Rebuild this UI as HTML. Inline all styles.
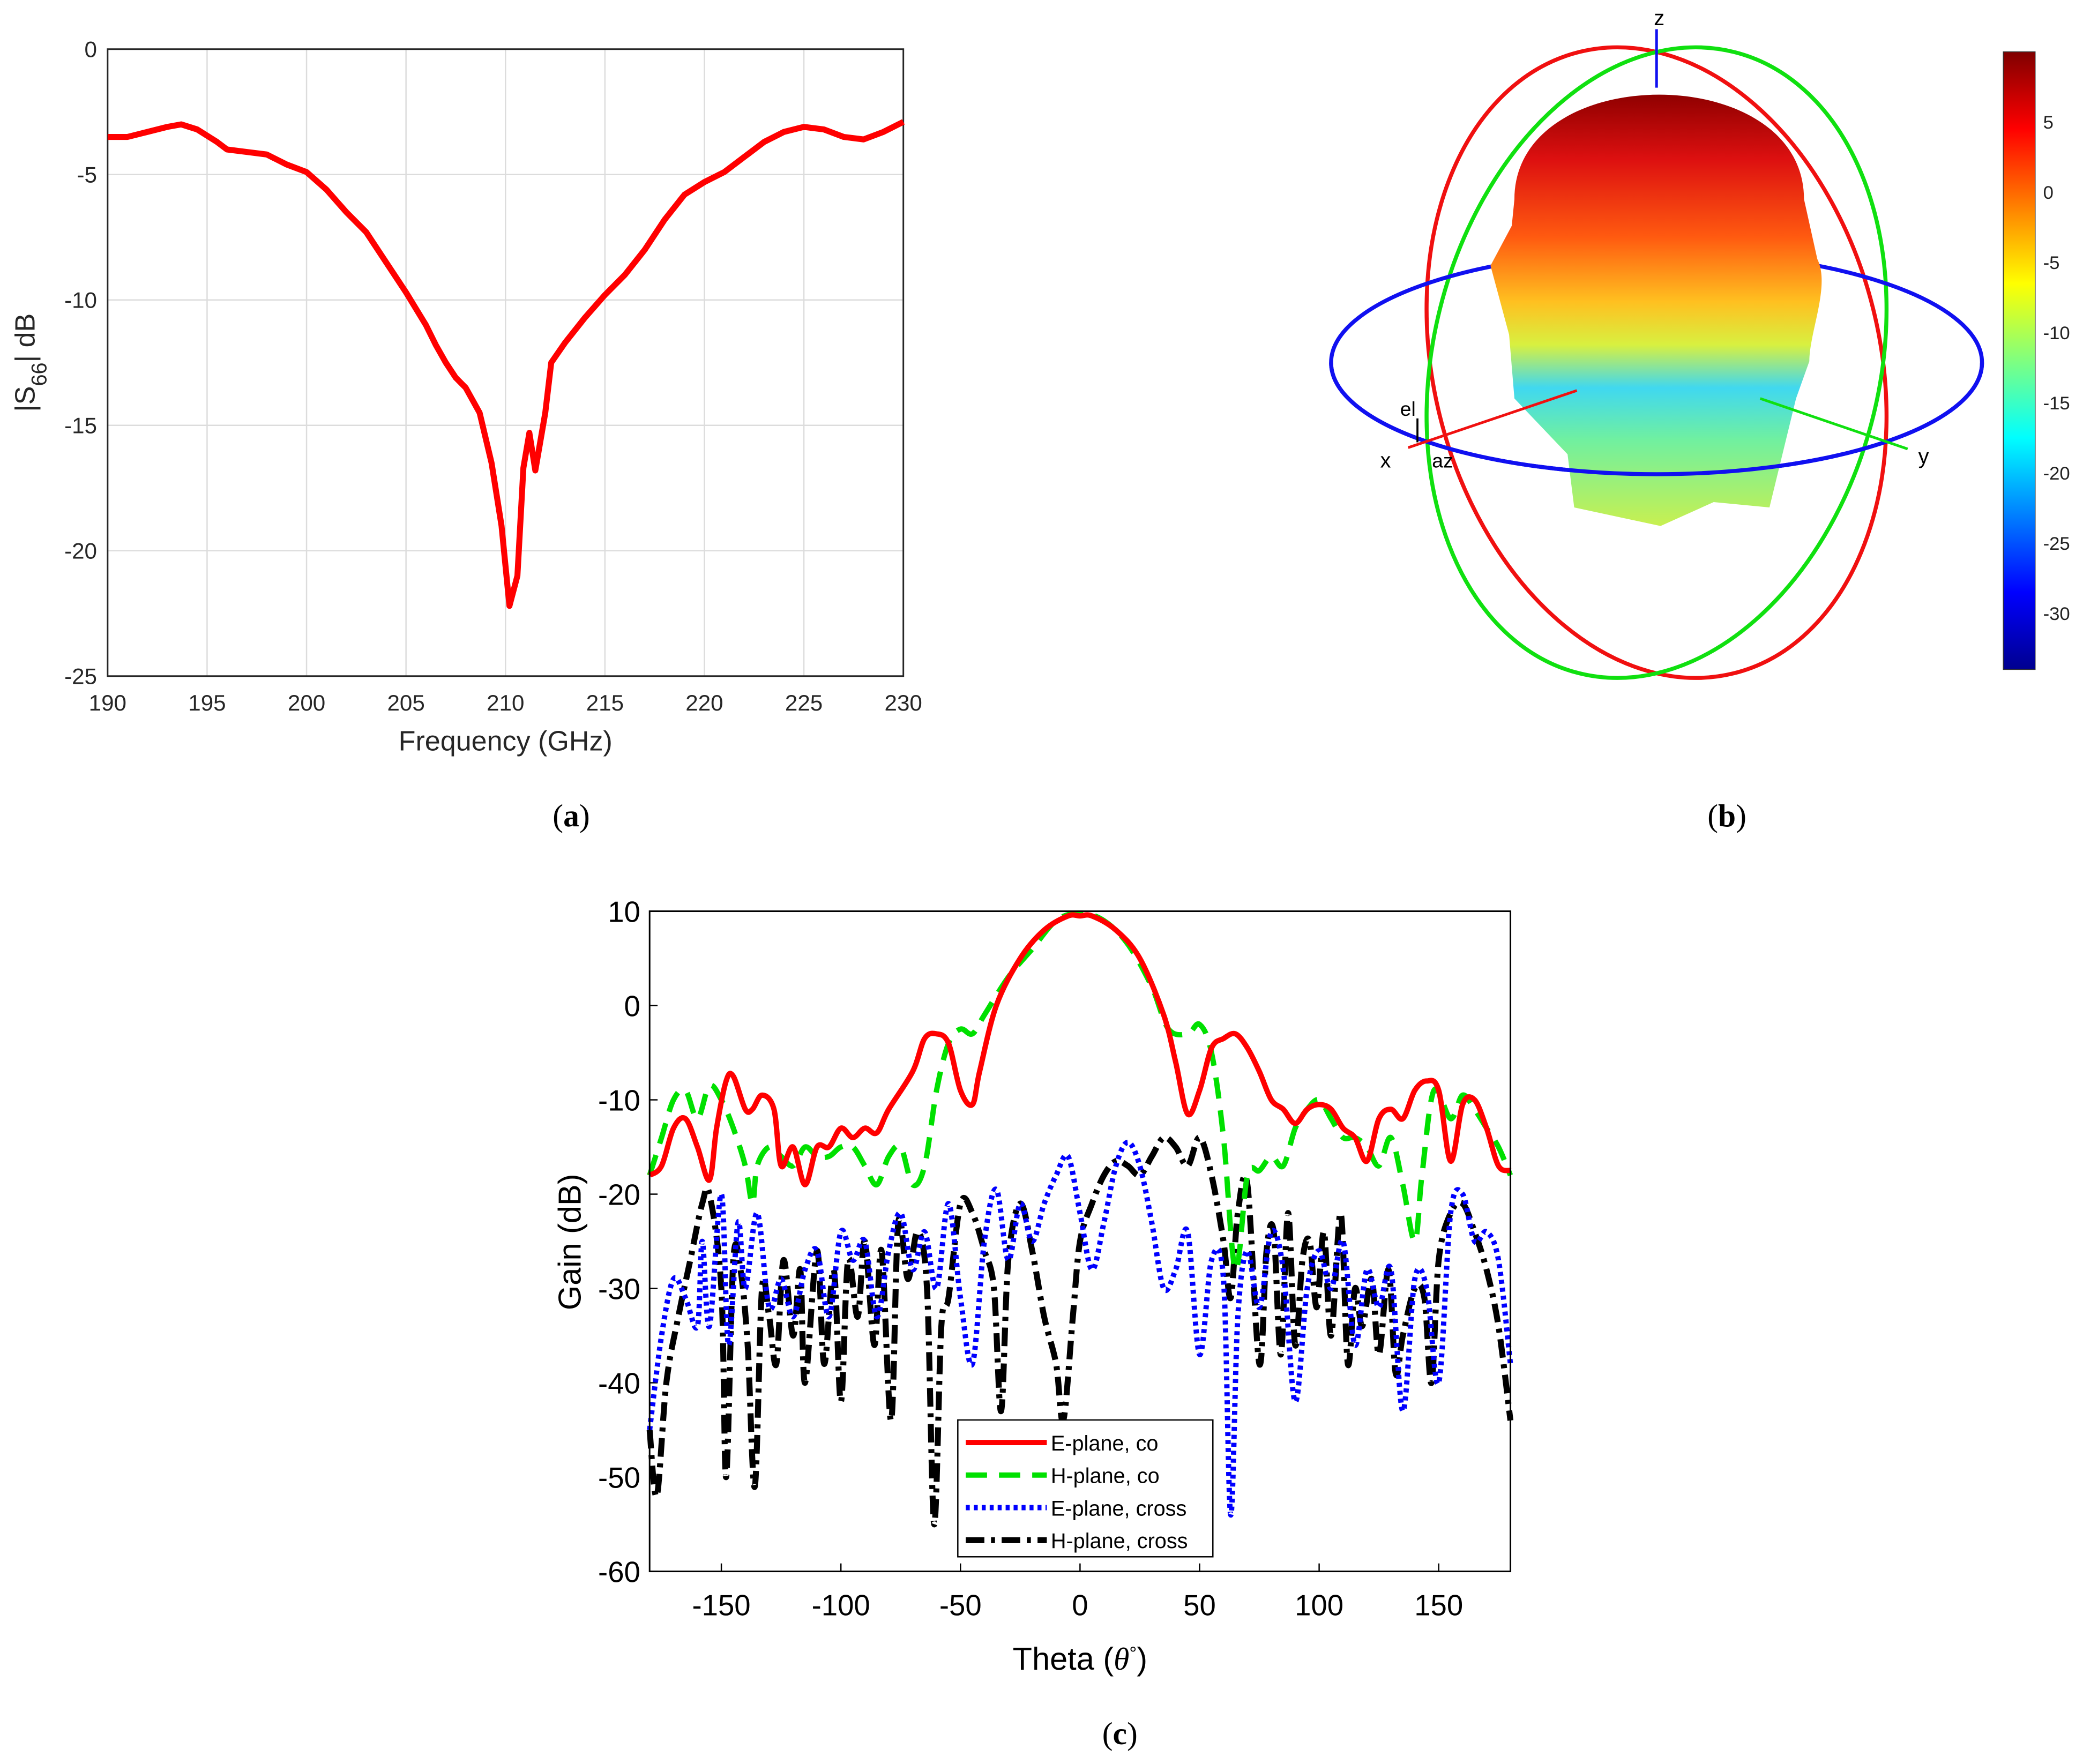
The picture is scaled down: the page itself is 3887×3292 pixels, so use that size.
<!DOCTYPE html>
<html><head><meta charset="utf-8"><style>
html,body{margin:0;padding:0;background:#fff}
svg{display:block}
text{font-family:"Liberation Sans",sans-serif}
.serif{font-family:"Liberation Serif",serif}
</style></head><body>
<svg id="fig" width="3887" height="3292" viewBox="0 0 1568 1328" xmlns="http://www.w3.org/2000/svg">
<defs>
<linearGradient id="jet" x1="0" y1="1" x2="0" y2="0">
<stop offset="0" stop-color="#00008f"/><stop offset="0.125" stop-color="#0000ff"/><stop offset="0.375" stop-color="#00ffff"/><stop offset="0.625" stop-color="#ffff00"/><stop offset="0.875" stop-color="#ff0000"/><stop offset="1" stop-color="#800000"/>
</linearGradient>
<linearGradient id="blobg" x1="0" y1="0" x2="0" y2="1">
<stop offset="0" stop-color="#900000"/><stop offset="0.15" stop-color="#dd1010"/><stop offset="0.33" stop-color="#ff5a10"/><stop offset="0.48" stop-color="#ffc020"/><stop offset="0.58" stop-color="#d8f040"/><stop offset="0.68" stop-color="#40d8f0"/><stop offset="0.8" stop-color="#70f0a0"/><stop offset="1" stop-color="#c8f050"/>
</linearGradient>
</defs>
<g id="pa"></g>
<g id="pb">
<ellipse cx="1247" cy="273" rx="168" ry="241" transform="rotate(-14 1247 273)" fill="none" stroke="#f01010" stroke-width="3"/>
<ellipse cx="1247" cy="273" rx="168" ry="241" transform="rotate(14 1247 273)" fill="none" stroke="#10e010" stroke-width="3"/>
<ellipse cx="1247" cy="273" rx="245" ry="84" fill="none" stroke="#1010f0" stroke-width="3"/>
<path fill="url(#blobg)" d="M1140,150 C1140,45 1358,45 1358,150 L1368,195 C1378,215 1362,250 1362,272 L1352,300 L1332,382 L1290,378 L1250,396 L1185,382 L1180,342 L1140,300 L1136,252 L1122,200 L1138,170 Z"/>
<path d="M1002,273 A245,84 0 0 0 1492,273" fill="none" stroke="#1010f0" stroke-width="3"/>
<line x1="1060" y1="337" x2="1187" y2="294" stroke="#f01010" stroke-width="2"/>
<line x1="1325" y1="300" x2="1436" y2="338" stroke="#10e010" stroke-width="2"/>
<line x1="1247" y1="22" x2="1247" y2="66" stroke="#1010f0" stroke-width="2"/>
<text x="1245" y="19" font-size="16">z</text>
<text x="1039" y="352" font-size="16">x</text>
<text x="1444" y="349" font-size="16">y</text>
<text x="1054" y="313" font-size="15">el</text>
<text x="1078" y="352" font-size="15">az</text>
<line x1="1067" y1="333" x2="1067" y2="315" stroke="#000" stroke-width="1.5"/>
<rect x="1508" y="39" width="24" height="465" fill="url(#jet)" stroke="#333" stroke-width="0.6"/>
<g id="cbt"></g>
</g>
<g id="pc"></g>
<text class="serif" x="430" y="622" font-size="24" text-anchor="middle">(<tspan font-weight="bold">a</tspan>)</text>
<text class="serif" x="1300" y="622" font-size="24" text-anchor="middle">(<tspan font-weight="bold">b</tspan>)</text>
<text class="serif" x="843" y="1313" font-size="24" text-anchor="middle">(<tspan font-weight="bold">c</tspan>)</text>
</svg>
<script>
const NS="http://www.w3.org/2000/svg";
// Panel a data
const freqGHz=[190,191,192,193,193.7,194.5,195.5,196,197,198,199,200,201,202,203,204,205,206,206.5,207,207.5,208,208.7,209.3,209.8,210.2,210.6,210.9,211.2,211.5,212,212.3,213,214,215,216,217,218,219,220,221,222,223,224,225,226,227,228,229,230];
const s66dB=[-3.5,-3.5,-3.3,-3.1,-3.0,-3.2,-3.7,-4.0,-4.1,-4.2,-4.6,-4.9,-5.6,-6.5,-7.3,-8.5,-9.7,-11.0,-11.8,-12.5,-13.1,-13.5,-14.5,-16.5,-19,-22.2,-21,-16.7,-15.3,-16.8,-14.5,-12.5,-11.7,-10.7,-9.8,-9,-8,-6.8,-5.8,-5.3,-4.9,-4.3,-3.7,-3.3,-3.1,-3.2,-3.5,-3.6,-3.3,-2.9];
const aXTicks=[190,195,200,205,210,215,220,225,230];
const aYTicks=[0,-5,-10,-15,-20,-25];
// Colorbar
const cbTicks=[5,0,-5,-10,-15,-20,-25,-30];
// Panel c data
const thetaEco=[-180,-175,-170,-165,-160,-155,-152,-148,-145,-140,-137,-133,-128,-125,-120,-115,-110,-105,-100,-95,-90,-85,-80,-70,-65,-60,-55,-50,-45,-42,-35,-25,-15,-5,0,5,15,25,35,40,45,50,55,60,65,70,75,80,85,90,95,100,105,110,115,120,125,130,135,140,145,150,155,160,165,170,175,180];
const gainEco=[-18,-17,-13,-12,-15,-18.5,-13,-8,-7.5,-11,-11,-9.5,-11,-17,-15,-19,-15,-15,-13,-14,-13,-13.5,-11,-7,-3.5,-3,-4,-9,-10.5,-7,0,5,8,9.5,9.5,9.5,8,5,-1,-6,-11.5,-9,-4.5,-3.5,-3,-4.5,-7,-10,-11,-12.5,-11,-10.5,-11,-13,-14,-16.5,-12,-11,-12,-9,-8,-9,-16.5,-10.5,-10,-13,-17,-17.5];
const thetaHco=[-180,-175,-170,-165,-160,-155,-150,-145,-140,-137,-135,-130,-125,-120,-115,-110,-105,-100,-95,-90,-85,-80,-75,-70,-65,-60,-55,-50,-45,-40,-30,-20,-10,0,10,20,30,37,45,50,55,60,65,70,75,80,85,90,95,100,105,110,115,120,125,130,135,140,143,148,155,160,165,170,175,180];
const gainHco=[-18,-14,-10,-9,-12,-8.5,-10,-13,-17,-21,-17,-15,-16,-17,-15,-16,-16,-15,-15,-17,-19,-16,-15,-19,-17,-9,-4,-2.5,-3,-1,3,6,9,9.8,9,6.5,2,-2.5,-3,-2,-5,-14,-28,-18,-17.5,-16,-17,-13,-11,-10,-12,-14,-14,-15,-17,-14,-19,-25,-18,-9,-12,-9.5,-11,-13,-15,-18];
const thetaEx=[-180,-175,-170,-165,-160,-158,-155,-150,-147,-143,-140,-135,-130,-125,-120,-115,-110,-105,-100,-95,-90,-85,-80,-75,-70,-65,-60,-55,-50,-45,-40,-35,-30,-25,-20,-15,-10,-5,0,5,10,15,20,25,30,35,40,45,50,55,60,63,66,70,75,80,85,90,95,100,105,110,115,120,125,130,135,140,145,150,155,160,165,170,175,180];
const gainEx=[-45,-35,-29,-31,-34,-25,-34,-20,-36,-23,-30,-22,-32,-29,-33,-28,-26,-33,-24,-27,-25,-33,-26,-22,-28,-24,-30,-21,-31,-38,-25,-19.5,-27,-21,-25,-21,-18,-16,-22,-28,-23,-17,-14.5,-17,-23,-30,-28,-24,-37,-27,-29,-54,-33,-26,-32,-24,-28,-42,-30,-26,-30,-25,-36,-28,-32,-28,-43,-29,-30,-40,-22,-20,-25,-24,-27,-38];
const thetaHx=[-180,-177,-173,-168,-163,-158,-155,-150,-148,-145,-142,-139,-136,-133,-130,-127,-124,-120,-117,-115,-110,-107,-103,-100,-97,-93,-90,-86,-83,-79,-76,-72,-68,-64,-61,-58,-55,-50,-45,-40,-36,-33,-30,-25,-20,-15,-10,-7,-3,0,5,10,15,20,25,30,35,40,45,50,55,60,63,66,70,75,78,81,84,87,90,93,96,99,102,105,109,112,115,118,122,125,129,132,135,140,144,147,150,155,160,165,170,175,180];
const gainHx=[-45,-52,-40,-33,-27,-21,-20,-30,-50,-27,-28,-36,-51,-30,-33,-38,-27,-35,-28,-40,-26,-38,-28,-42,-27,-33,-25,-36,-26,-44,-23,-29,-24,-30,-55,-34,-31,-21,-22,-26,-30,-43,-27,-21,-26,-33,-38,-44,-33,-25,-21,-18,-16.5,-17,-18,-16,-14,-15,-17,-14,-18,-25,-31,-22,-19,-38,-26,-24,-37,-22,-36,-27,-25,-32,-24,-35,-22,-38,-30,-34,-29,-37,-28,-39,-35,-30,-31,-40,-27,-22,-21,-24,-28,-34,-44];
const cXTicks=[-150,-100,-50,0,50,100,150];
const cYTicks=[10,0,-10,-20,-30,-40,-50,-60];
const legendLabels=["E-plane, co","H-plane, co","E-plane, cross","H-plane, cross"];

function el(tag,attrs,parent,text){const e=document.createElementNS(NS,tag);for(const k in attrs)e.setAttribute(k,attrs[k]);if(text!==undefined)e.textContent=text;parent.appendChild(e);return e;}
function smooth(pts){let d="M"+pts[0][0].toFixed(2)+","+pts[0][1].toFixed(2);for(let i=0;i<pts.length-1;i++){const p0=pts[Math.max(0,i-1)],p1=pts[i],p2=pts[i+1],p3=pts[Math.min(pts.length-1,i+2)];const c1=[p1[0]+(p2[0]-p0[0])/6,p1[1]+(p2[1]-p0[1])/6],c2=[p2[0]-(p3[0]-p1[0])/6,p2[1]-(p3[1]-p1[1])/6];d+="C"+c1[0].toFixed(2)+","+c1[1].toFixed(2)+" "+c2[0].toFixed(2)+","+c2[1].toFixed(2)+" "+p2[0].toFixed(2)+","+p2[1].toFixed(2);}return d;}

// Panel a
(function(){
const g=document.getElementById('pa');
const L=81,R=680,T=37,B=509;
const xs=v=>L+(v-190)/(230-190)*(R-L), ys=v=>T+(0-v)/25*(B-T);
for(const t of aXTicks){
 const gl=el('line',{x1:xs(t),x2:xs(t),y1:T,y2:B,stroke:'#dcdcdc','stroke-width':1},g);
 
 const tl=el('text',{x:xs(t),y:B+26,'font-size':17,'text-anchor':'middle',fill:'#262626'},g,String(t));
 
}
for(const t of aYTicks){
 const gl=el('line',{x1:L,x2:R,y1:ys(t),y2:ys(t),stroke:'#dcdcdc','stroke-width':1},g);
 
 const tl=el('text',{x:L-8,y:ys(t)+6,'font-size':17,'text-anchor':'end',fill:'#262626'},g,String(t));
 
}
const fr=el('rect',{x:L,y:T,width:R-L,height:B-T,fill:'none',stroke:'#262626','stroke-width':1.2},g);

const pts=freqGHz.map((f,i)=>[xs(f),ys(s66dB[i])]);
const ln=el('path',{d:"M"+pts.map(p=>p[0].toFixed(2)+","+p[1].toFixed(2)).join("L"),fill:'none',stroke:'#ff0000','stroke-width':4.5,'stroke-linejoin':'round'},g);

const xl=el('text',{x:(L+R)/2,y:565,'font-size':21,'text-anchor':'middle',fill:'#262626'},g,'Frequency (GHz)');

const yl=el('text',{transform:'translate(26,273) rotate(-90)','font-size':21,'text-anchor':'middle',fill:'#262626'},g);

yl.innerHTML='|S<tspan baseline-shift="sub" font-size="16">66</tspan>| dB';
})();
// Colorbar ticks
(function(){
const g=document.getElementById('cbt');
const cy=v=>504-(v-(-34))/(10-(-34))*465;
for(const t of cbTicks){
 const tl=el('text',{x:1538,y:cy(t)+5,'font-size':14,fill:'#222'},g,String(t));
 
}
})();
// Panel c
(function(){
const g=document.getElementById('pc');
const L=489,R=1137,T=686,B=1183;
const xs=v=>L+(v+180)/360*(R-L), ys=v=>T+(10-v)/70*(B-T);
for(const t of cXTicks){
 const tk=el('line',{x1:xs(t),x2:xs(t),y1:B,y2:B-6,stroke:'#000'},g);
 
 const tl=el('text',{x:xs(t),y:B+33,'font-size':22,'text-anchor':'middle'},g,String(t));
 
}
for(const t of cYTicks){
 const tk=el('line',{x1:L,x2:L+6,y1:ys(t),y2:ys(t),stroke:'#000'},g);
 
 const tl=el('text',{x:L-7,y:ys(t)+8,'font-size':22,'text-anchor':'end'},g,String(t));
 
}
const series=[
 {x:thetaEco,y:gainEco,c:'#ff0000',w:4,da:'',n:'e-plane-co-line'},
 {x:thetaHco,y:gainHco,c:'#00e000',w:4,da:'16,9',n:'h-plane-co-line'},
 {x:thetaEx,y:gainEx,c:'#0000ff',w:4,da:'3,3',n:'e-plane-cross-line'},
 {x:thetaHx,y:gainHx,c:'#000000',w:4.5,da:'14,5,3,5',n:'h-plane-cross-line'}];
const order=[3,2,1,0];
for(const i of order){const s=series[i];
 const p=el('path',{d:smooth(s.x.map((t,j)=>[xs(t),ys(s.y[j])])),fill:'none',stroke:s.c,'stroke-width':s.w,'stroke-dasharray':s.da},g);
 
}
const fr=el('rect',{x:L,y:T,width:R-L,height:B-T,fill:'none',stroke:'#000','stroke-width':1.2},g);

const lg=el('g',{},g);

el('rect',{x:721,y:1069,width:192,height:103,fill:'#fff',stroke:'#000','stroke-width':1},lg);
legendLabels.forEach((lab,i)=>{const s=series[i];const y=1086+i*24.5;
 const ln=el('line',{x1:727,x2:788,y1:y,y2:y,stroke:s.c,'stroke-width':s.w,'stroke-dasharray':s.da},lg);
 
 const tx=el('text',{x:791,y:y+6,'font-size':16},lg,lab);
 
});
const xl=el('text',{x:813,y:1257,'font-size':24,'text-anchor':'middle'},g);
xl.innerHTML='Theta (<tspan font-style="italic" font-family="Liberation Serif">θ</tspan><tspan baseline-shift="super" font-size="14">°</tspan>)';

const yl=el('text',{transform:'translate(437,935) rotate(-90)','font-size':24,'text-anchor':'middle'},g,'Gain (dB)');

})();
</script>
</body></html>
